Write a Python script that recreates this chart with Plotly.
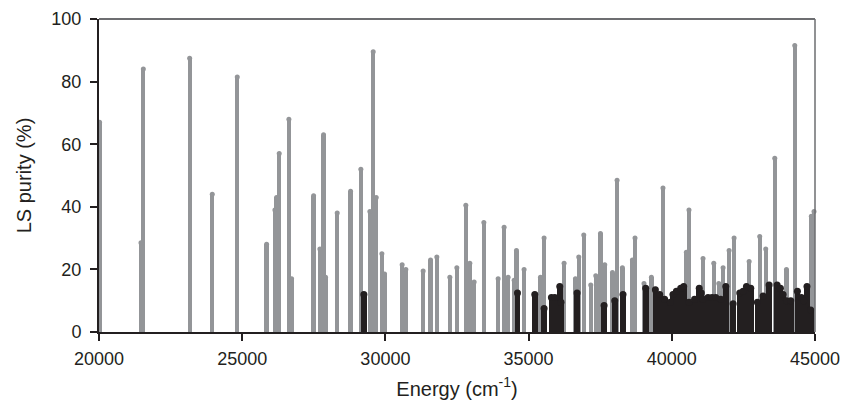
import plotly.graph_objects as go

# Gray bars: energy (cm-1) and LS purity (%)
gray_energy = [20020, 21466, 21548, 23165, 23955, 24827, 25852, 26142, 26200, 26293,
               26630, 26725, 27493, 27713, 27840, 27910, 28317, 28784, 29143, 29458,
               29574, 29679, 29877, 29971, 30585, 30714, 31318, 31576, 31796, 32250,
               32494, 32808, 32948, 33098, 33437, 33936, 34145, 34285, 34495, 34576,
               34842, 35414, 35540, 36239, 36635, 36751, 36926, 37170, 37345, 37509,
               37659, 37928, 38089, 38275, 38624, 38715, 39029, 39287, 39692, 40508,
               40600, 41090, 41465, 41640, 41790, 42000, 42175, 42700, 43070, 43280,
               43595, 44003, 44293, 44872, 44965]
gray_purity = [67, 28.5, 84, 87.5, 44, 81.5, 28, 39, 43, 57,
               68, 17, 43.5, 26.5, 63, 17.5, 38, 45, 52, 38.5,
               89.5, 43, 25, 18.5, 21.5, 20, 19.5, 23, 24, 17.5,
               20.5, 40.5, 22, 16, 35, 17, 33.5, 17.5, 16.5, 26,
               20, 17.5, 30, 22, 17, 24, 31, 15, 18, 31.5,
               21.5, 19, 48.5, 20.5, 23, 30, 15.5, 17.5, 46, 25.5,
               39, 23.5, 22, 15.5, 20.5, 26, 30, 22.5, 30.5, 26.5,
               55.5, 20, 91.5, 37, 38.5]

# Black bars
black_energy = [29248, 34611, 35216, 35540, 35797, 35913, 36088, 36130, 36692, 37635,
                38008, 38296, 39089, 39427, 39577, 39751, 39950, 40040, 40160, 40310,
                40415, 40600, 40794, 40958, 41030, 41090, 41265, 41405, 41535, 41710,
                41885, 42140, 42373, 42490, 42606, 42757, 42990, 43187, 43397, 43676,
                43793, 43886, 44003, 44154, 44386, 44525, 44605, 44720, 44850]
black_purity = [12, 12.5, 12, 7.5, 11, 11, 14.5, 9.5, 12.5, 8.5,
                10, 12, 14, 13.5, 12, 10.5, 9.5, 12, 13, 14,
                14.5, 9.5, 10.5, 14, 12.5, 10.5, 11, 11, 11, 10.5,
                14.5, 9, 12.5, 13, 14.5, 14, 9.5, 11.5, 15, 15,
                14, 12, 10, 10, 13, 11, 10, 14.5, 7]

x_ticks = [20000, 25000, 30000, 35000, 40000, 45000]
y_ticks = [0, 20, 40, 60, 80, 100]

GRAY = "#939598"
BLACK = "#231f20"
FONT = "Liberation Sans, Arial, Helvetica, sans-serif"

fig = go.Figure()
fig.add_trace(go.Bar(x=gray_energy, y=gray_purity, width=150,
                     marker=dict(color=GRAY, line=dict(width=0)), showlegend=False))
fig.add_trace(go.Scatter(x=gray_energy, y=gray_purity, mode="markers",
                         marker=dict(color=GRAY, size=5, line=dict(width=0)),
                         showlegend=False, cliponaxis=False))
fig.add_trace(go.Bar(x=black_energy, y=black_purity, width=200,
                     marker=dict(color=BLACK, line=dict(width=0)), showlegend=False))
fig.add_trace(go.Scatter(x=black_energy, y=black_purity, mode="markers",
                         marker=dict(color=BLACK, size=7, line=dict(width=0)),
                         showlegend=False, cliponaxis=False))

fig.update_layout(
    width=845, height=415,
    margin=dict(l=99, r=30, t=19, b=83),
    paper_bgcolor="white", plot_bgcolor="white",
    barmode="overlay", bargap=0,
    font=dict(family=FONT, color=BLACK, size=18),
    xaxis=dict(range=[20000, 45000], tickvals=x_ticks, ticktext=[str(v) for v in x_ticks],
               automargin=False,
               showgrid=False, zeroline=False, showline=True, linecolor=BLACK, linewidth=2,
               ticks="outside", ticklen=7, tickwidth=1.5, tickcolor=BLACK,
               tickfont=dict(size=18), ticklabelstandoff=2,
               title=dict(text="Energy (cm<sup>-1</sup>)", font=dict(size=20), standoff=14)),
    yaxis=dict(range=[0, 100], tickvals=y_ticks, automargin=False,
               showgrid=False, zeroline=False, showline=True, linecolor=BLACK, linewidth=2,
               ticks="outside", ticklen=7, tickwidth=1.5, tickcolor=BLACK,
               tickfont=dict(size=18), ticklabelstandoff=5,
               title=dict(text="LS purity (%)", font=dict(size=20), standoff=14)),
    shapes=[
        dict(type="line", xref="paper", yref="paper", x0=0, x1=1, y0=1, y1=1,
             line=dict(color="#6d6e71", width=2)),
        dict(type="line", xref="paper", yref="paper", x0=1, x1=1, y0=0, y1=1,
             line=dict(color="#6d6e71", width=1.5)),
    ],
)

fig.write_html("out.html", config={"displayModeBar": False},
               post_script="document.body.style.margin='0';")
